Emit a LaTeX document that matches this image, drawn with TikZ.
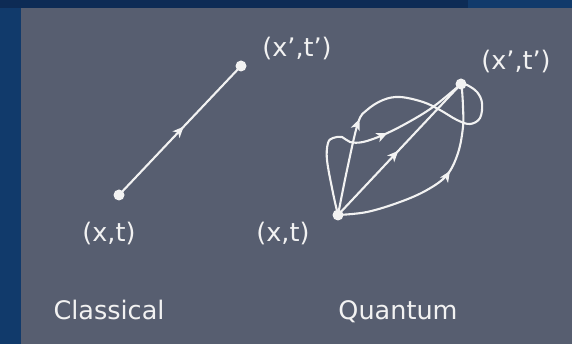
\documentclass[tikz,border=0pt]{standalone}
\usepackage{fontspec}
\setmainfont{DejaVu Sans}
\usetikzlibrary{arrows.meta,decorations.markings}
\definecolor{bordblue}{HTML}{113A6B}
\definecolor{topblue}{HTML}{0D2B55}
\definecolor{board}{HTML}{575E70}
\definecolor{chalk}{HTML}{F2F2F2}
\tikzset{
  chalkline/.style={draw=chalk, line width=2.1pt, line cap=round, line join=round},
  dotnode/.style={circle, fill=chalk, inner sep=0pt, minimum size=11pt},
  lbl/.style={text=chalk, font=\fontsize{25.5}{28}\selectfont, inner sep=0pt},
  midarrow/.style={postaction={decorate, decoration={markings,
      mark=at position #1 with {\arrow{Stealth[length=11pt,width=9.5pt,inset=3pt]}}}}}
}
\begin{document}
\begin{tikzpicture}[x=1pt,y=-1pt]
\useasboundingbox (0,0) rectangle (572,344);
% background
\fill[bordblue] (0,0) rectangle (572,344);
\fill[topblue] (0,0) rectangle (468,8);
\fill[board] (21,8) rectangle (572,344);
% classical
\node[dotnode] (cs) at (119,195) {};
\node[dotnode] (ce) at (241,66) {};
\draw[chalkline, midarrow=0.53] (cs.center) -- (ce.center);
\node[lbl] (csl) at (109,234) {(x,t)};
\node[lbl] (cel) at (297,49) {(x’,t’)};
\node[lbl, anchor=base] (ct) at (109,319) {Classical};
% quantum
\node[dotnode] (qs) at (338,215) {};
\node[dotnode] (qe) at (461,84) {};
\draw[chalkline, midarrow=0.49] (qs.center) -- (qe.center);
% upper arc with loop
\draw[chalkline, midarrow=0.35] plot[smooth, tension=0.6] coordinates {
  (qs.center) (347,170) (358,123) (367,110) (383,100) (400,97) (423,102)
  (440,110) (457,120) (470,124) (480,118) (482,103) (477,92) (467,85) (qe.center)};
% wavy path
\draw[chalkline, midarrow=0.61] plot[smooth, tension=0.6] coordinates {
  (qs.center) (333,193) (327,160) (328,143) (333,138) (342,137) (350,142)
  (363,142) (383,135) (407,123) (433,107) (qe.center)};
% lower path
\draw[chalkline, midarrow=0.58] plot[smooth, tension=0.6] coordinates {
  (qs.center) (367,212) (400,202) (427,190) (447,175) (458,153) (463,127)
  (463,107) (462,90) (qe.center)};
\node[lbl] (qsl) at (283,234) {(x,t)};
\node[lbl] (qel) at (516,62) {(x’,t’)};
\node[lbl, anchor=base] (qt) at (398,319) {Quantum};
\end{tikzpicture}
\end{document}
